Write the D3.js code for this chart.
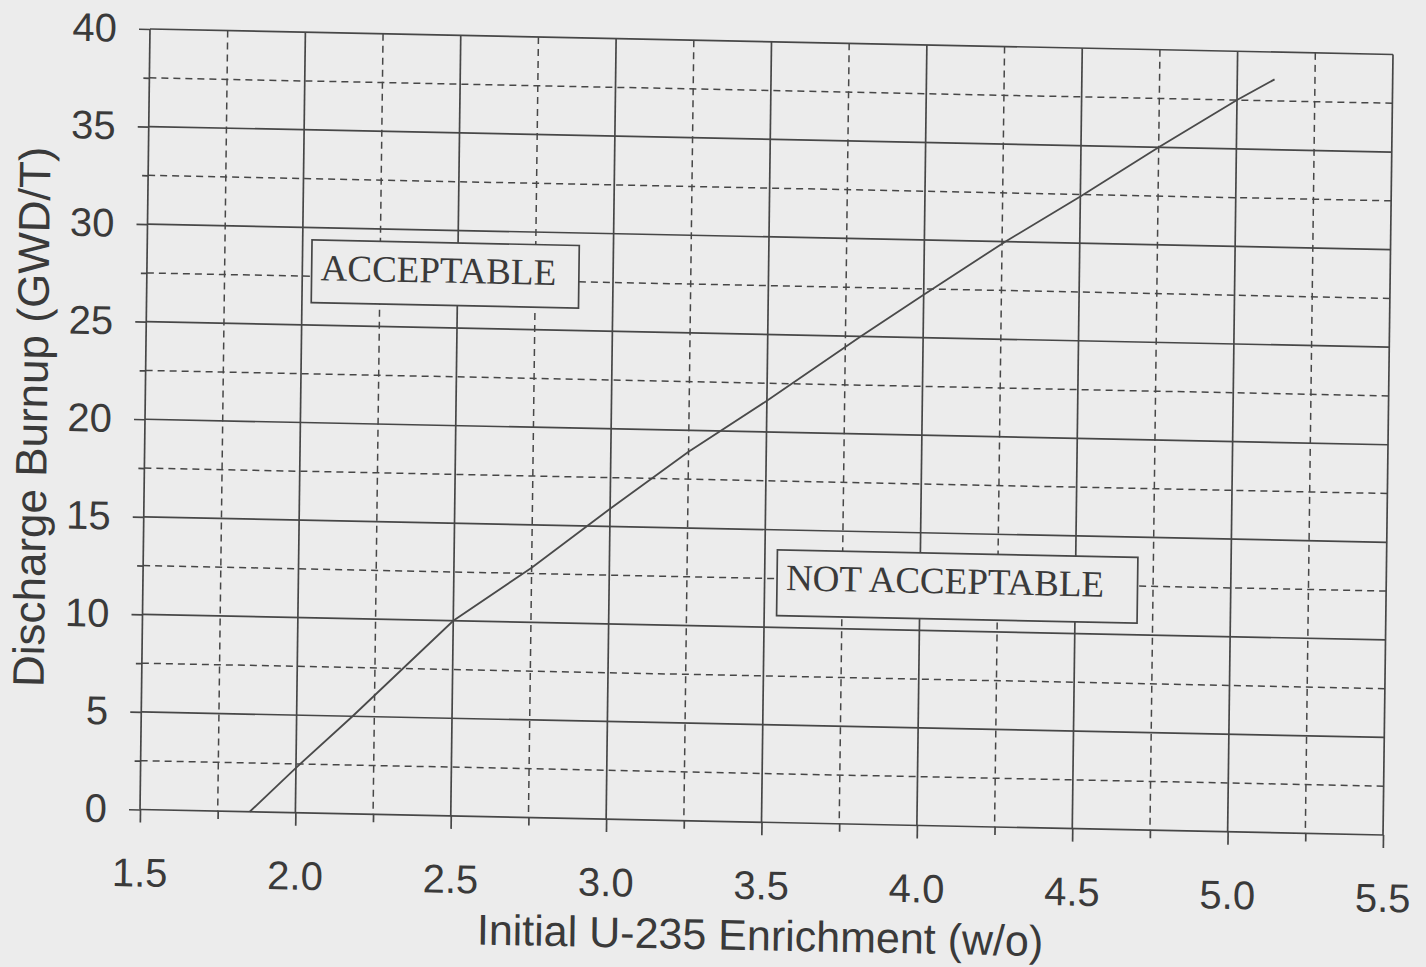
<!DOCTYPE html>
<html>
<head>
<meta charset="utf-8">
<script src="https://cdn.jsdelivr.net/npm/d3@7"></script>
<style>
  body { margin: 0; background: #ececec; }
  svg { display: block; }
</style>
</head>
<body>
<script>
// Curve: enrichment (w/o) vs discharge burnup (GWD/T)
var enrichment = [1.853, 2.0, 2.18, 2.34, 2.5, 2.75, 3.0, 3.25, 3.5, 3.8, 4.0, 4.26, 4.5, 4.75, 5.0, 5.12];
var burnup     = [0, 2.3, 5, 7.5, 10, 12.8, 15.9, 18.9, 21.6, 25, 27.2, 30, 32.4, 35, 37.5, 38.6];

// Tick values
var xMajor = [1.5, 2.0, 2.5, 3.0, 3.5, 4.0, 4.5, 5.0, 5.5];
var xMinor = [1.75, 2.25, 2.75, 3.25, 3.75, 4.25, 4.75, 5.25];
var yMajor = [0, 5, 10, 15, 20, 25, 30, 35, 40];
var yMinor = [2.5, 7.5, 12.5, 17.5, 22.5, 27.5, 32.5, 37.5];

// Region labels (box corners in data units)
var regionText = ["ACCEPTABLE", "NOT ACCEPTABLE"];
var regionX0 = [2.03, 3.54];
var regionX1 = [2.89, 4.70];
var regionY0 = [26.15, 10.6];
var regionY1 = [29.36, 13.97];

var W = 1243, H = 780.5;
var ink = "#474747";
var bg = "#ececec";

var svg = d3.select("body").append("svg")
  .attr("width", 1426).attr("height", 967);

svg.append("rect").attr("width", 1426).attr("height", 967).attr("fill", bg);

// the scanned page is slightly skewed, so the whole chart sits in a sheared frame
var g = svg.append("g")
  .attr("transform", "matrix(1,0.0205,-0.0128,1,150,29)");

var x = d3.scaleLinear().domain([1.5, 5.5]).range([0, W]);
var y = d3.scaleLinear().domain([0, 40]).range([H, 0]);

// minor dashed grid
g.selectAll(".vminor").data(xMinor).enter().append("line")
  .attr("x1", function(d){return x(d);}).attr("x2", function(d){return x(d);})
  .attr("y1", 0).attr("y2", H)
  .attr("stroke", ink).attr("stroke-width", 1.5).attr("stroke-dasharray", "7,5");
g.selectAll(".hminor").data(yMinor).enter().append("line")
  .attr("x1", 0).attr("x2", W)
  .attr("y1", function(d){return y(d);}).attr("y2", function(d){return y(d);})
  .attr("stroke", ink).attr("stroke-width", 1.5).attr("stroke-dasharray", "7,5");

// major solid grid
g.selectAll(".vmajor").data(xMajor).enter().append("line")
  .attr("x1", function(d){return x(d);}).attr("x2", function(d){return x(d);})
  .attr("y1", 0).attr("y2", H)
  .attr("stroke", ink).attr("stroke-width", 1.7);
g.selectAll(".hmajor").data(yMajor).enter().append("line")
  .attr("x1", 0).attr("x2", W)
  .attr("y1", function(d){return y(d);}).attr("y2", function(d){return y(d);})
  .attr("stroke", ink).attr("stroke-width", 1.7);

// axes (ticks + labels)
var tickFont = "'Liberation Sans', Arial, sans-serif";

var xAxis = g.append("g").attr("transform", "translate(0," + H + ")")
  .call(d3.axisBottom(x).tickValues(xMajor).tickSize(13).tickFormat(d3.format(".1f")));
g.append("g").attr("transform", "translate(0," + H + ")")
  .call(d3.axisBottom(x).tickValues(xMinor).tickSize(8).tickFormat(""));

var yAxis = g.append("g")
  .call(d3.axisLeft(y).tickValues(yMajor).tickSize(11).tickPadding(22));
g.append("g")
  .call(d3.axisLeft(y).tickValues(yMinor).tickSize(6).tickFormat(""));

g.selectAll(".domain").remove();
g.selectAll(".tick line").attr("stroke", ink).attr("stroke-width", 1.7);

xAxis.selectAll("text")
  .attr("y", 77).attr("dy", null)
  .style("font-family", tickFont).style("font-size", "40px").attr("fill", "#3a3a3a");
yAxis.selectAll("text")
  .style("font-family", tickFont).style("font-size", "40px").attr("fill", "#3a3a3a");

// the limit curve
var line = d3.line()
  .x(function(d){return x(d[0]);})
  .y(function(d){return y(d[1]);});

g.append("path")
  .datum(d3.zip(enrichment, burnup))
  .attr("d", line)
  .attr("fill", "none").attr("stroke", "#4a4a4a").attr("stroke-width", 1.8);

// region labels with opaque boxes
var boxes = g.selectAll(".region").data(regionText).enter().append("g");
boxes.append("rect")
  .attr("x", function(d,i){return x(regionX0[i]);})
  .attr("y", function(d,i){return y(regionY1[i]);})
  .attr("width", function(d,i){return x(regionX1[i]) - x(regionX0[i]);})
  .attr("height", function(d,i){return y(regionY0[i]) - y(regionY1[i]);})
  .attr("fill", bg).attr("stroke", ink).attr("stroke-width", 1.7);
boxes.append("text")
  .attr("x", function(d,i){return x(regionX0[i]) + 9;})
  .attr("y", function(d,i){return y(regionY1[i]) + 40;})
  .text(function(d){return d;})
  .style("font-family", "'Liberation Serif', 'Times New Roman', serif")
  .style("font-size", "37px").attr("fill", "#3a3a3a");

// axis titles
g.append("text")
  .attr("x", W / 2).attr("y", H + 128)
  .attr("text-anchor", "middle")
  .style("font-family", tickFont).style("font-size", "43px").attr("fill", "#3a3a3a")
  .text("Initial U-235 Enrichment (w/o)");

g.append("text")
  .attr("transform", "translate(-98," + (H / 2) + ") rotate(-90)")
  .attr("text-anchor", "middle")
  .style("font-family", tickFont).style("font-size", "44px").attr("fill", "#3a3a3a")
  .text("Discharge Burnup (GWD/T)");
</script>
</body>
</html>
